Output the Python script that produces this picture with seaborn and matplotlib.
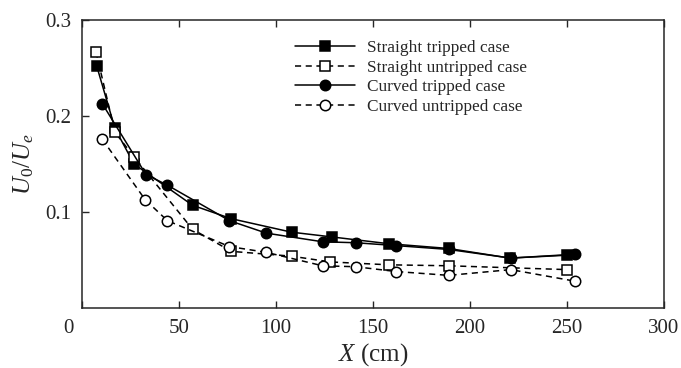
import matplotlib
matplotlib.use("Agg")
import matplotlib.pyplot as plt
import matplotlib.transforms as mtransforms
import seaborn as sns
import pandas as pd

# Data
st_x = [7.6, 17, 26.8, 57, 77, 108, 129, 158, 189, 220.6, 250]
st_y = [0.252, 0.187, 0.150, 0.107, 0.093, 0.079, 0.074, 0.067, 0.062, 0.052, 0.055]

su_x = [7.2, 17, 27, 57, 77, 108, 128, 158, 189, 250]
su_y = [0.267, 0.183, 0.157, 0.082, 0.059, 0.054, 0.048, 0.045, 0.044, 0.040]

ct_x = [10.4, 33, 44, 76, 95, 124, 141, 162, 189, 221, 254]
ct_y = [0.213, 0.139, 0.128, 0.091, 0.078, 0.069, 0.068, 0.065, 0.061, 0.052, 0.056]

cu_x = [10.4, 32.5, 44, 76, 95, 124, 141, 162, 189, 221, 254]
cu_y = [0.176, 0.113, 0.091, 0.064, 0.058, 0.044, 0.043, 0.038, 0.034, 0.040, 0.028]

labels = ["Straight tripped case", "Straight untripped case",
          "Curved tripped case", "Curved untripped case"]
x_ticks = [0, 50, 100, 150, 200, 250, 300]
y_ticks = [0.1, 0.2, 0.3]

sns.set_style("ticks")
plt.rcParams["font.family"] = ["Liberation Serif", "DejaVu Serif"]
plt.rcParams["mathtext.fontset"] = "custom"
plt.rcParams["mathtext.rm"] = "Liberation Serif"
plt.rcParams["mathtext.it"] = "Liberation Serif:italic"

fig = plt.figure(figsize=(6.81, 3.68), dpi=100)
ax = fig.add_axes([0.1204, 0.163, 0.975 - 0.1204, 0.9457 - 0.163])

series = [
    (st_x, st_y, labels[0], "s", "black", "-"),
    (su_x, su_y, labels[1], "s", "white", (0, (4, 3))),
    (ct_x, ct_y, labels[2], "o", "black", "-"),
    (cu_x, cu_y, labels[3], "o", "white", (0, (4, 3))),
]
for xs, ys, lab, mk, mfc, ls in series:
    df = pd.DataFrame({"X": xs, "Y": ys})
    sns.lineplot(data=df, x="X", y="Y", ax=ax, color="black", linewidth=1.1,
                 linestyle=ls, marker=mk, markersize=7.5, markerfacecolor=mfc,
                 markeredgecolor="black", markeredgewidth=1.1, label=lab,
                 sort=False)

ax.set_xlim(0, 300)
ax.set_ylim(0, 0.3)
ax.set_xticks(x_ticks)
ax.set_yticks(y_ticks)
ax.set_xticklabels([str(v) for v in x_ticks])
ax.set_yticklabels(["0.1", "0.2", "0.3"])
ax.tick_params(direction="in", length=5, width=1, top=True, right=False,
               labelsize=15, pad=8)
for s in ax.spines.values():
    s.set_linewidth(1.1)
    s.set_visible(True)

# origin label sits slightly left of the corner in the reference
lab0 = ax.get_xticklabels()[0]
lab0.set_transform(lab0.get_transform() +
                   mtransforms.ScaledTranslation(-14 / 100, 0, fig.dpi_scale_trans))

ax.set_xlabel(r"$X$ (cm)", fontsize=18, labelpad=2)
ax.set_ylabel(r"$U_0/U_e$", fontsize=18, labelpad=6)

leg = ax.legend(loc="upper left", bbox_to_anchor=(0.366, 0.93), frameon=False,
                fontsize=12.4, handlelength=3.5, handletextpad=0.7,
                labelspacing=0.2, borderaxespad=0, borderpad=0)

fig.savefig("out.png", dpi=100)
